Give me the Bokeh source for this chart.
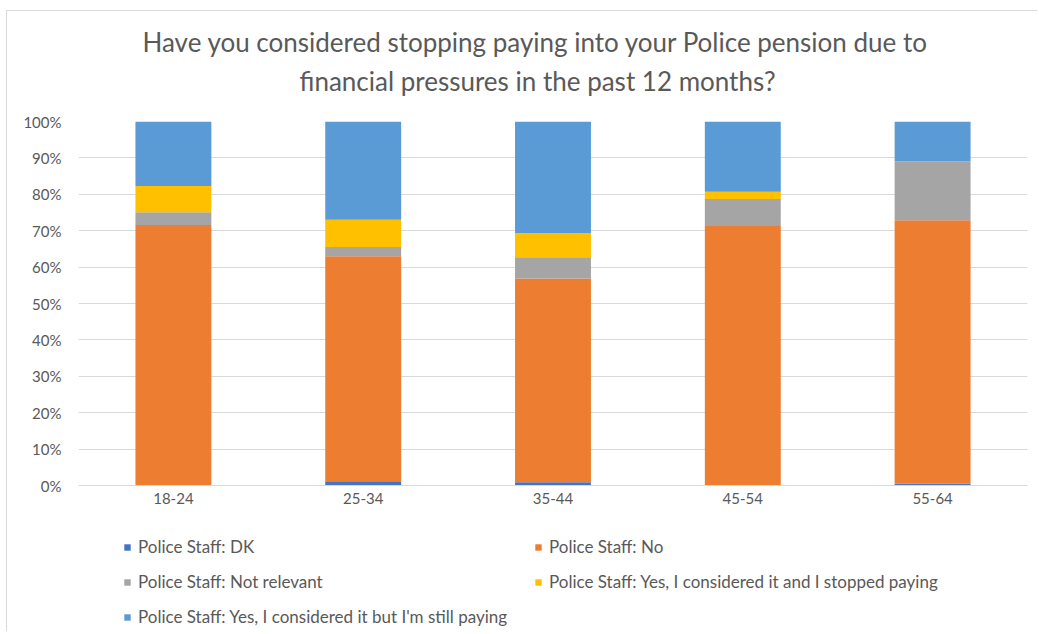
from bokeh.plotting import figure
from bokeh.layouts import column
from bokeh.models import (Range1d, FactorRange, NumeralTickFormatter, Legend, LegendItem,
                          Title, FixedTicker)
from bokeh.embed import file_html
from bokeh.resources import INLINE

categories = ["18-24", "25-34", "35-44", "45-54", "55-64"]
series_names = [
    "Police Staff: DK",
    "Police Staff: No",
    "Police Staff: Not relevant",
    "Police Staff: Yes, I considered it and I stopped paying",
    "Police Staff: Yes, I considered it but I'm still paying",
]
dk = [0.0, 1.2, 0.9, 0.0, 0.5]
no = [71.6, 61.8, 56.0, 71.3, 72.4]
not_relevant = [3.5, 2.5, 5.8, 7.4, 16.2]
stopped = [7.2, 7.5, 6.7, 2.0, 0.0]
still_paying = [17.7, 27.0, 30.6, 19.3, 10.9]
colors = ["#4472C4", "#ED7D31", "#A5A5A5", "#FFC000", "#5B9BD5"]
y_ticks = [0, 0.1, 0.2, 0.3, 0.4, 0.5, 0.6, 0.7, 0.8, 0.9, 1.0]
title_lines = ["Have you considered stopping paying into your Police pension due to",
               "financial pressures in the past 12 months?"]

FONT = "Lato"
TXT = "#595959"

keys = ["dk", "no", "nr", "st", "sp"]
data = {"cat": categories}
for k, arr in zip(keys, [dk, no, not_relevant, stopped, still_paying]):
    data[k] = [v / 100.0 for v in arr]

# canvas origin sits at page (7, 11) because of the outer border
p = figure(x_range=FactorRange(*categories, range_padding=0), y_range=Range1d(0, 1),
           width=1030, height=514, output_backend="svg", toolbar_location=None,
           min_border_left=71, min_border_right=10, min_border_top=110, min_border_bottom=40)
p.frame_width = 949
p.frame_height = 364

renderers = p.vbar_stack(keys, x="cat", width=0.4, color=colors, line_color=None, source=data)

p.outline_line_color = None
p.xgrid.grid_line_color = None
p.ygrid.grid_line_color = "#d9d9d9"
p.ygrid.grid_line_width = 1
p.yaxis.ticker = FixedTicker(ticks=y_ticks)
p.yaxis.formatter = NumeralTickFormatter(format="0%")
p.yaxis.axis_line_color = None
p.yaxis.major_tick_line_color = None
p.yaxis.minor_tick_line_color = None
p.yaxis.major_label_standoff = 11
p.xaxis.axis_line_color = "#d9d9d9"
p.xaxis.major_tick_line_color = None
p.xaxis.minor_tick_line_color = None
p.xaxis.major_label_standoff = 1
for ax in (p.xaxis[0], p.yaxis[0]):
    ax.major_label_text_font = FONT
    ax.major_label_text_font_size = "15px"
    ax.major_label_text_color = TXT

# spacer, then second title line, then first line (stacked upward from the frame)
p.add_layout(Title(text=" ", text_font_size="1px", standoff=17), "above")
p.add_layout(Title(text=title_lines[1], align="left", offset=221, text_font=FONT,
                   text_font_size="26px", text_font_style="normal", text_color=TXT,
                   standoff=10), "above")
p.add_layout(Title(text=title_lines[0], align="left", offset=64, text_font=FONT,
                   text_font_size="26px", text_font_style="normal", text_color=TXT,
                   standoff=0), "above")

# legend drawn in its own strip under the chart
lf = figure(width=1030, height=106, output_backend="svg", toolbar_location=None,
            x_range=Range1d(0, 1), y_range=Range1d(0, 1), x_axis_type=None, y_axis_type=None,
            min_border=0)
lf.outline_line_color = None
lf.grid.visible = False
dummies = [lf.vbar(x=[5], top=[0], width=0.1, color=c, line_color=None) for c in colors]
items = [LegendItem(label=n, renderers=[r]) for n, r in zip(series_names, dummies)]
legend = Legend(items=items, location=(45, 4), ncols=2, orientation="horizontal",
                glyph_width=8, glyph_height=8, label_height=21, label_width=382, spacing=14,
                label_standoff=7, padding=0, margin=0,
                border_line_color=None, background_fill_alpha=0,
                label_text_font=FONT, label_text_font_size="17px", label_text_color=TXT)
lf.add_layout(legend, "center")

layout = column(p, lf, spacing=0,
                styles={"margin-left": "6px", "margin-top": "10px",
                        "border-left": "1px solid #d9d9d9", "border-top": "1px solid #d9d9d9"})

open("out.html", "w").write(file_html(layout, INLINE))
